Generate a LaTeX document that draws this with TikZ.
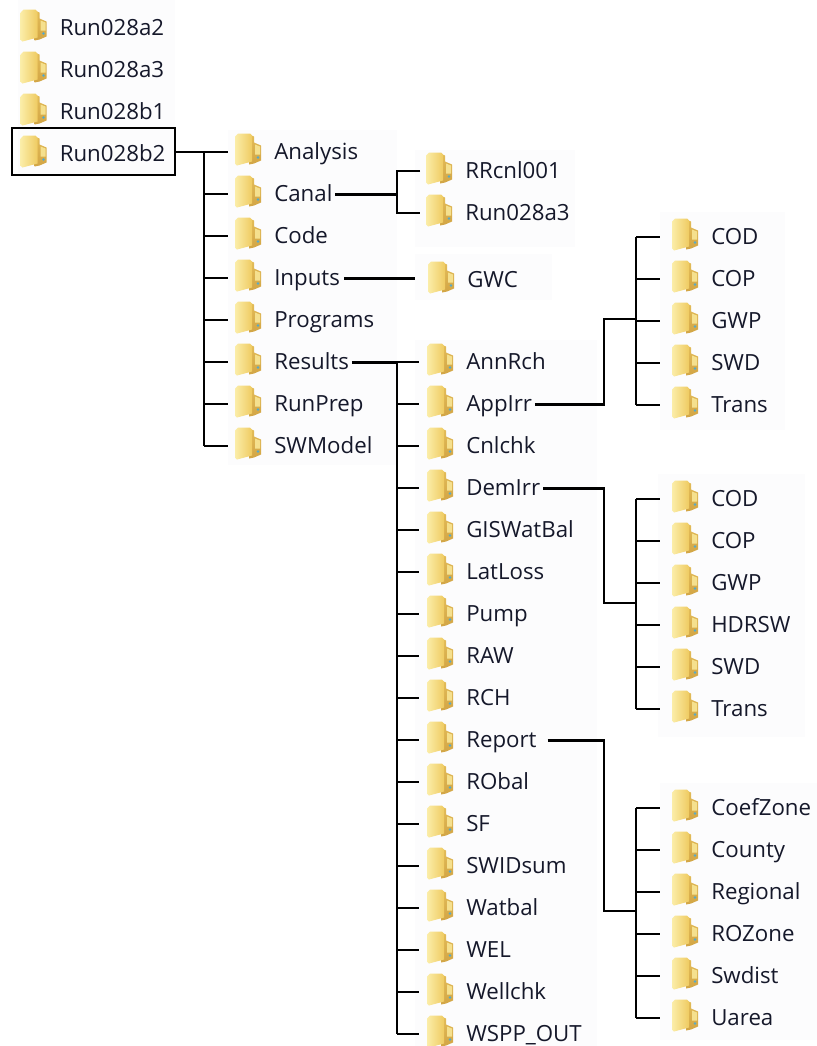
\documentclass[tikz,border=0pt]{standalone}
\usepackage{fontspec}
\setmainfont{Open Sans}
\usetikzlibrary{calc}
\definecolor{panel}{HTML}{FCFCFD}
\definecolor{ink}{HTML}{15182A}
\definecolor{foldA}{HTML}{FBEDA8}
\definecolor{foldB}{HTML}{EFCB62}
\definecolor{foldC}{HTML}{D2A545}
\definecolor{foldD}{HTML}{E3BC58}
\definecolor{foldE}{HTML}{F5E08E}
\tikzset{
  x=0.75pt,y=-0.75pt,
  conn/.style={draw=black,line width=1.6pt},
  folderbox/.style={inner sep=0pt,minimum width=19.5pt,minimum height=24pt},
  lbl/.style={anchor=west,inner sep=0pt,text=ink,font=\fontsize{16.7}{20}\selectfont,text height=13pt,text depth=3pt},
  panelbg/.style={fill=panel,draw=none},
  rootframe/.style={draw=black,line width=1.6pt,inner sep=0pt,minimum width=122.25pt,minimum height=35.25pt},
}
\newcommand{\fld}[4]{%
  \node[folderbox,anchor=west] (f#1) at ($(#2,#3)+(0,1)$) {};
  \begin{scope}[shift={($(f#1.west)+(0,-2.5)$)}]
    \shade[top color=foldD,bottom color=foldC] (14,-15) -- (19,-13) -- (19,-7) -- (26,-4) -- (26,11) -- (19,14) -- (14,15) -- cycle;
    \shade[left color=foldA,right color=foldB] (0,-13) -- (3,-16) -- (15,-16) -- (17,-14) -- (17,12) -- (2,16) -- (0,14) -- cycle;
    \fill[foldE] (20,-5) -- (25,-3) -- (25,5) -- (20,5) -- cycle;
    \fill[cyan!60!gray] (23,8) circle[radius=1.3];
  \end{scope}
  \node[lbl] (#1) at ($(#2,#3)+(39,1.5)$) {#4};
}
\begin{document}
\begin{tikzpicture}
\useasboundingbox (0,0) rectangle (817,1046);
% pale panels behind the folder columns
\fill[panelbg] (18,0) rectangle (175,175);
\fill[panelbg] (228,130) rectangle (397,465);
\fill[panelbg] (415,150) rectangle (575,247);
\fill[panelbg] (415,254) rectangle (552,300);
\fill[panelbg] (415,340) rectangle (597,1046);
\fill[panelbg] (660,212) rectangle (785,430);
\fill[panelbg] (658,474) rectangle (805,737);
\fill[panelbg] (660,783) rectangle (817,1040);
% top level
\fld{ra}{20.5}{27}{Run028a2}
\fld{rb}{20.5}{69}{Run028a3}
\fld{rc}{20.5}{111}{Run028b1}
\fld{rd}{20.5}{153}{Run028b2}
\node[rootframe] (rootbox) at (93.5,151.5) {};
% second level
\fld{analysis}{235}{151}{Analysis}
\fld{canal}{235}{193}{Canal}
\fld{code}{235}{235}{Code}
\fld{inputs}{235}{277}{Inputs}
\fld{programs}{235}{319}{Programs}
\fld{results}{235}{361}{Results}
\fld{runprep}{235}{403}{RunPrep}
\fld{swmodel}{235}{445}{SWModel}
% canal and inputs children
\fld{rrcnl}{426}{170}{RRcnl001}
\fld{runa}{426}{212}{Run028a3}
\fld{gwc}{428}{279}{GWC}
% results children
\fld{annrch}{427}{361}{AnnRch}
\fld{appirr}{427}{403}{AppIrr}
\fld{cnlchk}{427}{445}{Cnlchk}
\fld{demirr}{427}{487}{DemIrr}
\fld{giswatbal}{427}{529}{GISWatBal}
\fld{latloss}{427}{571}{LatLoss}
\fld{pump}{427}{613}{Pump}
\fld{raw}{427}{655}{RAW}
\fld{rch}{427}{697}{RCH}
\fld{report}{427}{739}{Report}
\fld{robal}{427}{781}{RObal}
\fld{sf}{427}{823}{SF}
\fld{swidsum}{427}{865}{SWIDsum}
\fld{watbal}{427}{907}{Watbal}
\fld{wel}{427}{949}{WEL}
\fld{wellchk}{427}{991}{Wellchk}
\fld{wspp}{427}{1033}{WSPP\_OUT}
% appirr children
\fld{acod}{672}{236}{COD}
\fld{acop}{672}{278}{COP}
\fld{agwp}{672}{320}{GWP}
\fld{aswd}{672}{362}{SWD}
\fld{atrans}{672}{404}{Trans}
% demirr children
\fld{dcod}{672}{498}{COD}
\fld{dcop}{672}{540}{COP}
\fld{dgwp}{672}{582}{GWP}
\fld{dhdrsw}{672}{624}{HDRSW}
\fld{dswd}{672}{666}{SWD}
\fld{dtrans}{672}{708}{Trans}
% report children
\fld{coef}{672}{807}{CoefZone}
\fld{county}{672}{849}{County}
\fld{regional}{672}{891}{Regional}
\fld{rozone}{672}{933}{ROZone}
\fld{swdist}{672}{975}{Swdist}
\fld{uarea}{672}{1017}{Uarea}
% junctions
\coordinate (t1) at (204,152);
\coordinate (t2) at (397,193);
\coordinate (t3) at (397,362);
\coordinate (a1) at (604,319);
\coordinate (a2) at (636,319);
\coordinate (d1) at (604,603);
\coordinate (d2) at (636,603);
\coordinate (p1) at (604,911);
\coordinate (p2) at (636,911);
% root to second level
\draw[conn] (rootbox.east |- fanalysis.west) -- ([xshift=-5pt]fanalysis.west);
\draw[conn] (t1) -- (t1 |- fswmodel.west);
\foreach \n in {canal,code,inputs,programs,results,runprep,swmodel}
  \draw[conn] (t1 |- f\n.west) -- ([xshift=-5pt]f\n.west);
% canal
\draw[conn] ([xshift=2pt]canal.east) -- (t2 |- canal.east);
\draw[conn] ([xshift=-4.5pt]frrcnl.west) -| (t2) |- ([xshift=-4.5pt]fruna.west);
% inputs
\draw[conn] ([xshift=3pt]inputs.east) -- ([xshift=-10pt]fgwc.west |- inputs.east);
% results
\draw[conn] ([xshift=2pt]results.east) -- (t3 |- results.east);
\draw[conn] (t3) -- (t3 |- fwspp.west);
\foreach \n in {annrch,appirr,cnlchk,demirr,giswatbal,latloss,pump,raw,rch,report,robal,sf,swidsum,watbal,wel,wellchk,wspp}
  \draw[conn] (t3 |- f\n.west) -- ([xshift=-6pt]f\n.west);
% appirr
\draw[conn] ([xshift=2pt]appirr.east) -| (a1) -- (a2);
\draw[conn] (a2 |- facod.west) -- (a2 |- fatrans.west);
\foreach \n in {acod,acop,agwp,aswd,atrans}
  \draw[conn] (a2 |- f\n.west) -- ([xshift=-9pt]f\n.west);
% demirr
\draw[conn] ([xshift=2pt]demirr.east) -| (d1) -- (d2);
\draw[conn] (d2 |- fdcod.west) -- (d2 |- fdtrans.west);
\foreach \n in {dcod,dcop,dgwp,dhdrsw,dswd,dtrans}
  \draw[conn] (d2 |- f\n.west) -- ([xshift=-9pt]f\n.west);
% report
\draw[conn] ([xshift=8pt]report.east) -| (p1) -- (p2);
\draw[conn] (p2 |- fcoef.west) -- (p2 |- fuarea.west);
\foreach \n in {coef,county,regional,rozone,swdist,uarea}
  \draw[conn] (p2 |- f\n.west) -- ([xshift=-9pt]f\n.west);
\end{tikzpicture}
\end{document}
